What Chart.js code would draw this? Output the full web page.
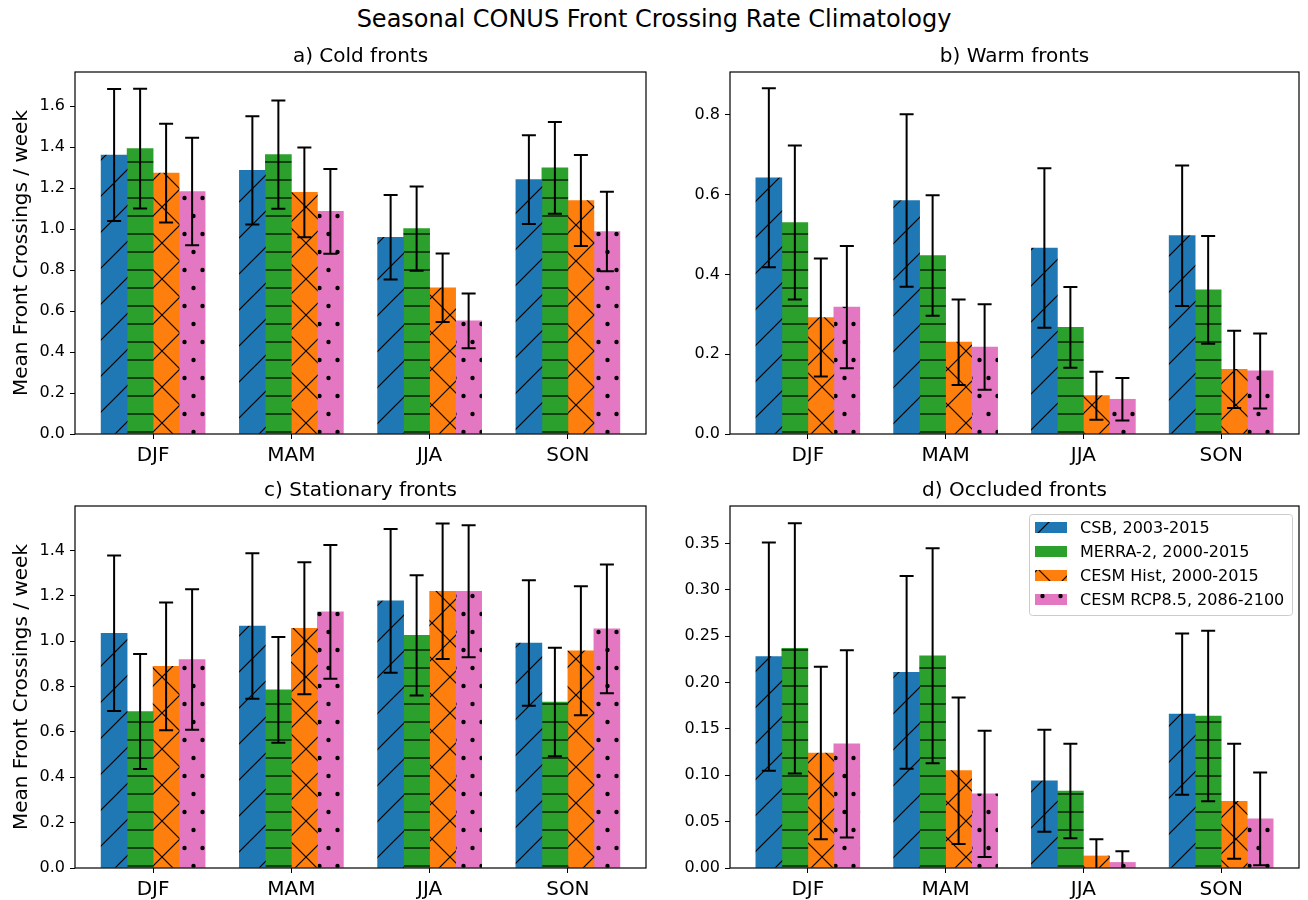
<!DOCTYPE html>
<html>
<head>
<meta charset="utf-8">
<script src="https://cdn.jsdelivr.net/npm/chart.js@4.4.1/dist/chart.umd.min.js"></script>
<style>
  body { margin: 0; background: #fff; width: 1308px; height: 900px; overflow: hidden; position: relative; font-family: "DejaVu Sans", sans-serif; }
  #title { position: absolute; left: 0; top: 4px; width: 1308px; text-align: center; font-size: 24px; line-height: 30px; color: #000; }
  canvas { position: absolute; }
</style>
</head>
<body>
<div id="title">Seasonal CONUS Front Crossing Rate Climatology</div>
<canvas id="cold" style="left:0;top:45px" width="660" height="421"></canvas>
<canvas id="warm" style="left:660px;top:45px" width="648" height="421"></canvas>
<canvas id="stat" style="left:0;top:479px" width="660" height="421"></canvas>
<canvas id="occl" style="left:660px;top:479px" width="648" height="421"></canvas>
<script>
const seasons = ["DJF", "MAM", "JJA", "SON"];
const seriesLabels = ["CSB, 2003-2015", "MERRA-2, 2000-2015", "CESM Hist, 2000-2015", "CESM RCP8.5, 2086-2100"];
const seriesColors = ["#1f77b4", "#2ca02c", "#ff7f0e", "#e377c2"];
const seriesHatch = ["/", "-", "x", "."];

// rows = series (CSB, MERRA-2, CESM Hist, CESM RCP8.5), columns = seasons
const coldMean = [
  [1.361, 1.286, 0.960, 1.241],
  [1.392, 1.363, 1.002, 1.298],
  [1.273, 1.179, 0.713, 1.139],
  [1.183, 1.086, 0.552, 0.988]
];
const coldErr = [
  [0.322, 0.264, 0.206, 0.216],
  [0.292, 0.264, 0.205, 0.224],
  [0.241, 0.219, 0.167, 0.222],
  [0.262, 0.207, 0.134, 0.194]
];
const warmMean = [
  [0.642, 0.585, 0.466, 0.497],
  [0.530, 0.447, 0.267, 0.361],
  [0.292, 0.230, 0.096, 0.162],
  [0.318, 0.218, 0.087, 0.158]
];
const warmErr = [
  [0.224, 0.216, 0.200, 0.176],
  [0.193, 0.151, 0.101, 0.135],
  [0.148, 0.107, 0.060, 0.097],
  [0.153, 0.107, 0.053, 0.094]
];
const statMean = [
  [1.035, 1.067, 1.178, 0.992],
  [0.690, 0.785, 1.026, 0.732],
  [0.889, 1.057, 1.220, 0.958],
  [0.919, 1.129, 1.220, 1.054]
];
const statErr = [
  [0.343, 0.321, 0.317, 0.277],
  [0.254, 0.233, 0.265, 0.239],
  [0.282, 0.291, 0.299, 0.284],
  [0.310, 0.295, 0.291, 0.284]
];
const occlMean = [
  [0.228, 0.211, 0.094, 0.166],
  [0.237, 0.229, 0.083, 0.164],
  [0.124, 0.105, 0.013, 0.072],
  [0.134, 0.080, 0.006, 0.053]
];
const occlErr = [
  [0.123, 0.104, 0.055, 0.087],
  [0.135, 0.116, 0.051, 0.092],
  [0.093, 0.079, 0.018, 0.062],
  [0.101, 0.068, 0.012, 0.050]
];

Chart.defaults.font.family = '"DejaVu Sans", sans-serif';
Chart.defaults.color = "#000";

// matplotlib-like hatch fills
function hatch(kind, color) {
  const w = (kind === "-" || kind === ".") ? 18 : 36;
  const h = kind === "-" ? 18 : 36;
  const c = document.createElement("canvas");
  c.width = w; c.height = h;
  const g = c.getContext("2d");
  g.fillStyle = color;
  g.fillRect(0, 0, w, h);
  g.strokeStyle = "#000";
  g.fillStyle = "#000";
  g.lineWidth = 1.2;
  g.beginPath();
  if (kind === "/" || kind === "x") {
    for (const o of [-w, 0, w]) { g.moveTo(o - 1, h + 1); g.lineTo(o + w + 1, -1); }
  }
  if (kind === "x") {
    for (const o of [-w, 0, w]) { g.moveTo(o - 1, -1); g.lineTo(o + w + 1, h + 1); }
  }
  if (kind === "-") { g.moveTo(0, 9); g.lineTo(w, 9); }
  g.stroke();
  if (kind === ".") {
    for (const [px, py] of [[4.5, 9], [13.5, 27]]) {
      g.beginPath(); g.arc(px, py, 2.2, 0, 2 * Math.PI); g.fill();
    }
  }
  return g.createPattern(c, "repeat");
}

const errorBars = {
  id: "errorBars",
  afterDatasetsDraw(chart) {
    const { ctx, chartArea, scales: { y } } = chart;
    ctx.save();
    ctx.beginPath();
    ctx.rect(chartArea.left, chartArea.top, chartArea.width, chartArea.height);
    ctx.clip();
    ctx.strokeStyle = "#000";
    ctx.lineWidth = 2;
    chart.data.datasets.forEach((ds, di) => {
      chart.getDatasetMeta(di).data.forEach((bar, i) => {
        const m = ds.data[i].y, e = ds.errors[i];
        const yTop = y.getPixelForValue(m + e), yBot = y.getPixelForValue(m - e);
        ctx.beginPath();
        ctx.moveTo(bar.x, yTop); ctx.lineTo(bar.x, yBot);
        ctx.moveTo(bar.x - 7, yTop); ctx.lineTo(bar.x + 7, yTop);
        ctx.moveTo(bar.x - 7, yBot); ctx.lineTo(bar.x + 7, yBot);
        ctx.stroke();
      });
    });
    ctx.restore();
  }
};

const frame = {
  id: "frame",
  afterDraw(chart) {
    const { ctx, chartArea: a } = chart;
    ctx.save();
    ctx.strokeStyle = "#000";
    ctx.lineWidth = 1.2;
    ctx.strokeRect(a.left, a.top, a.width, a.height);
    ctx.restore();
  }
};

const legendBox = {
  id: "legendBox",
  afterDraw(chart) {
    const { ctx, chartArea } = chart;
    const w = 263, h = 101;
    const left = chartArea.right - 7 - w, top = chartArea.top + 8;
    ctx.save();
    ctx.fillStyle = "rgba(255,255,255,0.8)";
    ctx.strokeStyle = "#cccccc";
    ctx.lineWidth = 1;
    ctx.beginPath();
    ctx.roundRect(left + 0.5, top + 0.5, w, h, 3);
    ctx.fill();
    ctx.stroke();
    ctx.font = '16px "DejaVu Sans"';
    ctx.textBaseline = "middle";
    chart.data.datasets.forEach((ds, i) => {
      const cy = top + 13.5 + i * 24;
      ctx.fillStyle = ds.backgroundColor;
      ctx.fillRect(left + 6, cy - 5.5, 32, 11);
      ctx.fillStyle = "#000";
      ctx.fillText(ds.label, left + 51, cy + 1);
    });
    ctx.restore();
  }
};

function panel(id, title, means, errs, yMax, yStep, decimals, leftPanel, extra) {
  const datasets = means.map((row, s) => ({
    label: seriesLabels[s],
    data: row.map((v, i) => ({ x: i, y: v })),
    errors: errs[s],
    backgroundColor: hatch(seriesHatch[s], seriesColors[s]),
    borderWidth: 0,
    barThickness: 26
  }));
  return new Chart(document.getElementById(id), {
    type: "bar",
    data: { datasets },
    plugins: [errorBars, frame].concat(extra || []),
    options: {
      responsive: false,
      animation: false,
      layout: { padding: { left: 0, right: leftPanel ? 14 : 9, top: 0, bottom: 0 } },
      plugins: {
        legend: { display: false },
        tooltip: { enabled: false },
        title: {
          display: true,
          text: title,
          fullSize: false,
          color: "#000",
          font: { size: 20, weight: "normal" },
          padding: { top: 0, bottom: 3 }
        }
      },
      scales: {
        x: {
          type: "linear",
          min: -0.565,
          max: 3.565,
          offset: false,
          afterBuildTicks: s => { s.ticks = seasons.map((_, i) => ({ value: i })); },
          afterFit: s => { s.height = 32; },
          ticks: { callback: v => seasons[v], font: { size: 20 }, padding: 5, maxRotation: 0 },
          grid: { display: true, drawOnChartArea: false, drawTicks: true, tickLength: 5, tickColor: "#000", offset: false },
          border: { display: false }
        },
        y: {
          min: 0,
          max: yMax,
          afterFit: s => { s.width = leftPanel ? 75 : 70; },
          ticks: { stepSize: yStep, includeBounds: false, padding: 5, font: { size: 16 }, callback: v => v.toFixed(decimals) },
          grid: { display: true, drawOnChartArea: false, drawTicks: true, tickLength: 5, tickColor: "#000" },
          border: { display: false },
          title: {
            display: leftPanel,
            text: "Mean Front Crossings / week",
            color: "#000",
            font: { size: 20 },
            padding: { top: 10, bottom: 0 }
          }
        }
      }
    }
  });
}

panel("cold", "a) Cold fronts", coldMean, coldErr, 1.766, 0.2, 1, true);
panel("warm", "b) Warm fronts", warmMean, warmErr, 0.907, 0.2, 1, false);
panel("stat", "c) Stationary fronts", statMean, statErr, 1.596, 0.2, 1, true);
panel("occl", "d) Occluded fronts", occlMean, occlErr, 0.3905, 0.05, 2, false, [legendBox]);
</script>
</body>
</html>
